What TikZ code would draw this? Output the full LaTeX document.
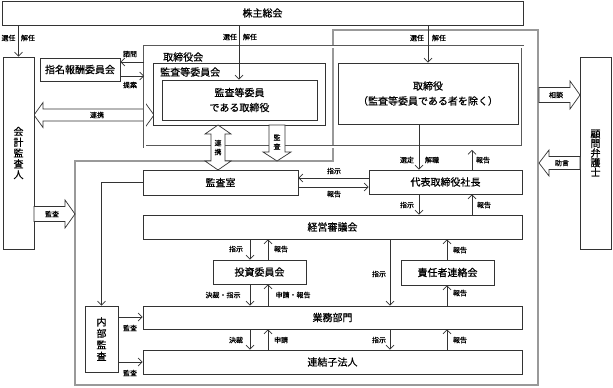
\documentclass[tikz,border=0pt]{standalone}
\usepackage{fontspec}
\setmainfont{Noto Sans CJK JP}[FakeBold=0.6]
\usetikzlibrary{arrows.meta,calc}
\tikzset{
 bxs/.style={draw=black!80, line width=0.8pt, fill=white, inner sep=0pt, font=\fontsize{10}{15}\selectfont, align=center},
 lab/.style={inner sep=0pt, font=\fontsize{7}{8}\selectfont},
 txt/.style={inner sep=0pt, font=\fontsize{10}{12}\selectfont},
 arr/.style={draw=black!80, line width=0.7pt, -{Straight Barb[length=4pt,width=8pt]}},
 blk/.style={draw=black!80, line width=0.7pt, fill=white, line join=miter},
 vt/.style={align=center, font=\fontsize{10}{10.8}\selectfont},
 vlab/.style={lab, align=center, font=\fontsize{7}{9}\selectfont}
}
\newcommand\bx[7][]{\node[bxs,minimum width={(#5-#3)*1pt},minimum height={(#6-#4)*1pt},#1] (#2) at ({(#3+#5)/2},{(#4+#6)/2}) {#7};}
\begin{document}
\begin{tikzpicture}[x=1pt,y=-1pt]
\useasboundingbox (0,0) rectangle (613,388);
% executive gray frame
\draw[gray!80, line width=2.2pt] (333,30) -- (538,30) -- (538,385) -- (75,385) -- (75,161) -- (333,161) -- cycle;
% horizontal renkei arrow
\draw[blk] (34,115) -- (43,102.5) -- (43,109) -- (145,109) -- (145,102.5) -- (154,115) -- (145,127.5) -- (145,121) -- (43,121) -- (43,127.5) -- cycle;
\node[lab] at (97,115) {連携};
% board frame
\node[draw=black!65, line width=0.6pt, double=white, double distance=2pt, minimum width=378pt, minimum height=100pt, inner sep=0pt] (board) at (333.5,96.5) {};
\node[txt, anchor=west] at (163,57) {取締役会};
% boxes
\bx{gm}{2}{1}{523}{25}{株主総会}
\bx[vt]{kaikei}{3}{57}{34}{249}{会\\計\\監\\査\\人}
\bx[vt,font=\fontsize{10}{9.6}\selectfont]{komon}{580}{57}{611}{249}{顧\\問\\弁\\護\\士}
\bx{shimei}{40}{58}{120}{81}{指名報酬委員会}
\bx{kansakai}{153}{63}{325}{125}{}
\node[txt, anchor=west] at (160,72) {監査等委員会};
\bx{kansatori}{162}{80}{317}{120}{監査等委員\\である取締役}
\bx{tori}{338}{63}{518}{124}{取締役\\（監査等委員である者を除く）}
\bx{kansashitsu}{143}{170}{298}{195}{監査室}
\bx{daihyo}{369}{170}{522}{194}{代表取締役社長}
\bx{keiei}{143}{215}{522}{239}{経営審議会}
\bx{toshi}{213}{260}{306}{284}{投資委員会}
\bx{sekinin}{401}{260}{494}{285}{責任者連絡会}
\bx{gyomu}{143}{306}{522}{329}{業務部門}
\bx{renketsu}{143}{350}{522}{374}{連結子法人}
\bx[vt,font=\fontsize{10}{11.5}\selectfont]{naibu}{85}{306}{118}{372}{内\\部\\監\\査}
% helper coordinates
\coordinate (xa) at (239,0);
\coordinate (xb) at (428,0);
\coordinate (xs) at (419,0);
\coordinate (xr) at (472,0);
\coordinate (xi) at (250,0);
\coordinate (xj) at (268,0);
\coordinate (xk) at (390,0);
\coordinate (xl) at (447,0);
\coordinate (yq) at (0,62);
\coordinate (yt) at (0,76);
\coordinate (yi1) at (0,178);
\coordinate (yi2) at (0,187);
\coordinate (ya1) at (0,317);
\coordinate (ya2) at (0,362);
% thin connectors
\draw[arr] (kaikei.north |- gm.south) -- (kaikei.north);
\draw[arr] (xa |- gm.south) -- (xa |- kansatori.north);
\draw[arr] (xb |- gm.south) -- (xb |- tori.north);
\draw[arr] (board.west |- yq) -- (shimei.east |- yq);
\draw[arr] (shimei.east |- yt) -- (board.west |- yt);
\draw[arr] (daihyo.west |- yi1) -- (kansashitsu.east |- yi1);
\draw[arr] (kansashitsu.east |- yi2) -- (daihyo.west |- yi2);
\draw[arr] (xs |- tori.south) -- (xs |- daihyo.north);
\draw[arr] (xr |- daihyo.north) -- ($(xr |- board.south)+(0,3)$);
\draw[arr] (xs |- daihyo.south) -- (xs |- keiei.north);
\draw[arr] (xr |- keiei.north) -- (xr |- daihyo.south);
\draw[arr] (xi |- keiei.south) -- (xi |- toshi.north);
\draw[arr] (xj |- toshi.north) -- (xj |- keiei.south);
\draw[arr] (xl |- sekinin.north) -- (xl |- keiei.south);
\draw[arr] (xk |- keiei.south) -- (xk |- gyomu.north);
\draw[arr] (xi |- toshi.south) -- (xi |- gyomu.north);
\draw[arr] (xj |- gyomu.north) -- (xj |- toshi.south);
\draw[arr] (xl |- gyomu.north) -- (xl |- sekinin.south);
\draw[arr] (xi |- gyomu.south) -- (xi |- renketsu.north);
\draw[arr] (xj |- renketsu.north) -- (xj |- gyomu.south);
\draw[arr] (xk |- gyomu.south) -- (xk |- renketsu.north);
\draw[arr] (xl |- renketsu.north) -- (xl |- gyomu.south);
\draw[arr] (naibu.east |- ya1) -- (gyomu.west |- ya1);
\draw[arr] (naibu.east |- ya2) -- (renketsu.west |- ya2);
\draw[arr] (kansashitsu.west) -| (naibu.north);
% block arrows
\draw[blk] (218,125) -- (231,134) -- (225,134) -- (225,161) -- (231,161) -- (218,170) -- (205,161) -- (211,161) -- (211,134) -- (205,134) -- cycle;
\node[vlab] at (218,147.5) {連\\携};
\draw[blk] (269,125) -- (285,125) -- (285,152) -- (291,152) -- (277,161) -- (263,152) -- (269,152) -- cycle;
\node[vlab] at (277,142) {監\\査};
\draw[blk] (34,206.5) -- (65,206.5) -- (65,200) -- (75,214) -- (65,228) -- (65,221.5) -- (34,221.5) -- cycle;
\node[lab] at (52,214) {監査};
\draw[blk] (539,87.5) -- (570,87.5) -- (570,81) -- (580,95) -- (570,109) -- (570,102.5) -- (539,102.5) -- cycle;
\node[lab] at (556,95) {相談};
\draw[blk] (580,156.5) -- (549,156.5) -- (549,150) -- (539,163) -- (549,176) -- (549,169.5) -- (580,169.5) -- cycle;
\node[lab] at (562,163) {助言};
% labels
\node[lab] at (8.5,38) {選任}; \node[lab] at (28,38) {解任};
\node[lab] at (230,37) {選任}; \node[lab] at (250,37) {解任};
\node[lab] at (417,38) {選任}; \node[lab] at (439,38) {解任};
\node[lab] at (130,54) {諮問}; \node[lab] at (130,85) {提案};
\node[lab] at (407,160) {選定}; \node[lab] at (432,160) {解職}; \node[lab] at (483,160) {報告};
\node[lab] at (334,171) {指示}; \node[lab] at (334,194) {報告};
\node[lab] at (407,205) {指示}; \node[lab] at (484,205) {報告};
\node[lab] at (236,249) {指示}; \node[lab] at (281,249) {報告}; \node[lab] at (460,250) {報告};
\node[lab] at (223,295) {決裁・指示}; \node[lab] at (293,295) {申請・報告};
\node[lab] at (379,274) {指示}; \node[lab] at (460,293) {報告};
\node[lab] at (236,340) {決裁}; \node[lab] at (281,340) {申請};
\node[lab] at (379,340) {指示}; \node[lab] at (460,340) {報告};
\node[lab] at (130,328) {監査}; \node[lab] at (130,373) {監査};
\end{tikzpicture}
\end{document}
